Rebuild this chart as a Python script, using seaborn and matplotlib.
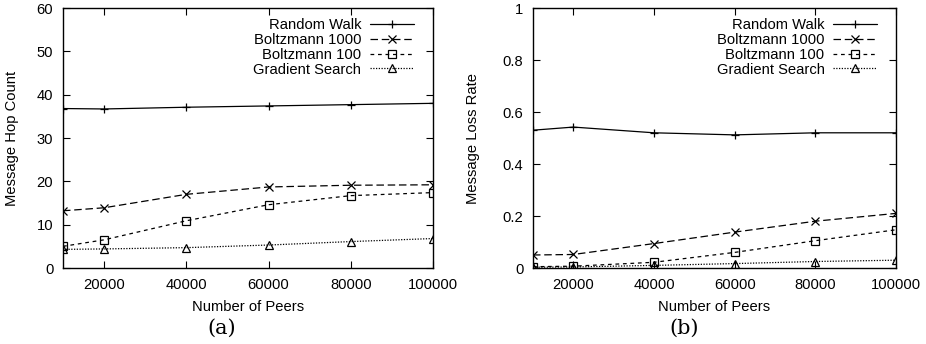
import matplotlib
matplotlib.use("Agg")
import matplotlib.pyplot as plt
import seaborn as sns
import pandas as pd

peers = [10000, 20000, 40000, 60000, 80000, 100000]
series = ["Random Walk", "Boltzmann 1000", "Boltzmann 100", "Gradient Search"]

hop_random = [36.8, 36.7, 37.1, 37.4, 37.7, 38.0]
hop_b1000 = [13.2, 13.9, 17.0, 18.7, 19.1, 19.2]
hop_b100 = [5.0, 6.5, 10.9, 14.6, 16.7, 17.4]
hop_grad = [4.3, 4.4, 4.7, 5.3, 6.1, 6.8]

loss_random = [0.53, 0.542, 0.52, 0.512, 0.52, 0.52]
loss_b1000 = [0.05, 0.052, 0.094, 0.138, 0.18, 0.21]
loss_b100 = [0.005, 0.007, 0.022, 0.06, 0.105, 0.147]
loss_grad = [0.003, 0.004, 0.01, 0.017, 0.025, 0.03]

xticks = [20000, 40000, 60000, 80000, 100000]
yticks_a = [0, 10, 20, 30, 40, 50, 60]
yticks_b = [0, 0.2, 0.4, 0.6, 0.8, 1]
ytick_labels_b = ["0", "0.2", "0.4", "0.6", "0.8", "1"]

sns.set_theme(style="ticks", rc={"text.color": "black", "axes.labelcolor": "black",
                                 "xtick.color": "black", "ytick.color": "black",
                                 "axes.edgecolor": "black"})
plt.rcParams['font.family'] = ['Liberation Sans', 'DejaVu Sans']
plt.rcParams['font.size'] = 10.6

styles = {
    "Random Walk": dict(ls="-", marker="+"),
    "Boltzmann 1000": dict(ls=(0, (6, 3)), marker="x"),
    "Boltzmann 100": dict(ls=(0, (3, 3)), marker="s"),
    "Gradient Search": dict(ls=(0, (1, 1.2)), marker="^"),
}

fig = plt.figure(figsize=(9.26, 3.44), dpi=100)
ax1 = fig.add_axes([63/926, 1 - 268/344, (433-63)/926, (268-8)/344])
ax2 = fig.add_axes([533/926, 1 - 268/344, (896-533)/926, (268-8)/344])

for ax, vals, yt, ylab, ylim, cap, capx, lpad in [
    (ax1, [hop_random, hop_b1000, hop_b100, hop_grad], yticks_a, "Message Hop Count", (0, 60), "(a)", 222, 13),
    (ax2, [loss_random, loss_b1000, loss_b100, loss_grad], yticks_b, "Message Loss Rate", (0, 1), "(b)", 684, 16),
]:
    for name, v in zip(series, vals):
        df = pd.DataFrame({"peers": peers, "value": v})
        st = styles[name]
        sns.lineplot(data=df, x="peers", y="value", ax=ax, color="black",
                     linestyle=st["ls"], marker=st["marker"], label=name,
                     linewidth=0.9, markersize=6, markerfacecolor="none",
                     markeredgecolor="black", markeredgewidth=0.9)
    ax.set_xlim(10000, 100000)
    ax.set_ylim(*ylim)
    ax.set_xticks(xticks)
    ax.set_yticks(yt)
    if ax is ax2:
        ax.set_yticklabels(ytick_labels_b)
    ax.tick_params(direction="in", top=True, right=True, length=5, labelsize=10.6, width=0.8, pad=7,
                   colors="black")
    for sp in ax.spines.values():
        sp.set_linewidth(1.0)
        sp.set_color("black")
    ax.set_xlabel("Number of Peers", fontsize=10.6, labelpad=6, color="black")
    ax.set_ylabel(ylab, fontsize=10.6, labelpad=lpad, color="black")
    leg = ax.legend(loc="upper right", bbox_to_anchor=(1 - 9/370, 1.0), frameon=False,
                    markerfirst=False, fontsize=10.6,
                    handlelength=2.95, labelspacing=0.05, borderaxespad=0.3, handletextpad=0.6)
    for t in leg.get_texts():
        t.set_ha("right")
        t.set_color("black")
    fig.text(capx/926, 1 - 328/344, cap, ha="center", va="center",
             fontsize=15, family=["DejaVu Serif"], color="black")

fig.savefig("out.png", dpi=100)
